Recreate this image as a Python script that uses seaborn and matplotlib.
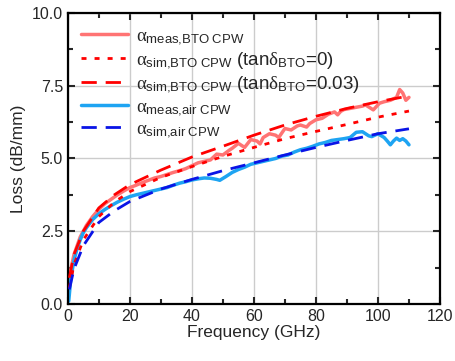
import matplotlib
matplotlib.use("Agg")
import matplotlib.pyplot as plt
import seaborn as sns
from matplotlib.ticker import MultipleLocator

# ---- data ----
f_meas_bto = [0.3, 1, 2, 3, 4, 5, 6, 8, 10, 12, 14, 16, 18, 20, 22, 24, 26, 28, 30, 32, 34, 36, 38, 40,
              42, 44, 46, 48, 50, 52, 53, 55, 57, 59, 61, 62, 63, 65, 67, 68, 70, 72, 74, 75, 77, 78,
              80, 82, 84, 86, 87, 88, 89, 91, 93, 95, 96, 98.5, 100.5, 102, 104, 106, 107, 108, 109, 110]
loss_meas_bto = [0.3, 1.2, 1.7, 2.0, 2.3, 2.5, 2.7, 3.0, 3.25, 3.45, 3.6, 3.75, 3.88, 4.0, 4.08, 4.17, 4.25,
                 4.33, 4.38, 4.45, 4.52, 4.58, 4.65, 4.75, 4.85, 4.9, 4.95, 5.15, 5.12, 5.28, 5.35, 5.52,
                 5.38, 5.65, 5.6, 5.5, 5.72, 5.85, 5.8, 5.72, 6.03, 5.98, 6.12, 6.15, 6.08, 6.2, 6.33,
                 6.38, 6.52, 6.6, 6.5, 6.62, 6.68, 6.72, 6.76, 6.8, 6.84, 6.67, 6.9, 6.95, 7.0, 7.1,
                 7.37, 7.25, 7.0, 7.1]

f_sim = [0.5, 2, 5, 10, 15, 20, 30, 40, 50, 60, 70, 80, 90, 100, 110]
loss_sim_bto_0 = [0.55, 1.35, 2.2, 3.0, 3.5, 3.86, 4.35, 4.72, 5.07, 5.38, 5.68, 5.93, 6.17, 6.42, 6.63]
loss_sim_bto_003 = [0.9, 1.7, 2.5, 3.3, 3.75, 4.1, 4.6, 5.05, 5.42, 5.8, 6.15, 6.45, 6.72, 6.95, 7.15]
loss_sim_air = [0.5, 1.2, 2.0, 2.8, 3.2, 3.52, 3.95, 4.28, 4.58, 4.85, 5.12, 5.38, 5.62, 5.85, 6.02]

f_meas_air = [0.3, 1, 2, 3, 4, 5, 6, 8, 10, 12, 14, 16, 18, 20, 22, 24, 26, 28, 30, 32, 34, 36, 38, 40,
              42, 44, 46, 48, 49, 51, 53, 55, 57, 59, 61, 63, 65, 67, 69, 71, 73, 75, 77, 79, 81, 83, 85,
              87, 89, 91, 93, 95, 97, 98, 100, 102, 103, 104, 105, 106, 107, 108, 109, 110]
loss_meas_air = [0.1, 0.9, 1.5, 1.9, 2.2, 2.45, 2.62, 2.9, 3.1, 3.25, 3.38, 3.5, 3.6, 3.69, 3.75, 3.8, 3.85,
                 3.9, 3.95, 4.0, 4.08, 4.15, 4.2, 4.26, 4.3, 4.33, 4.32, 4.28, 4.25, 4.38, 4.52, 4.62,
                 4.7, 4.8, 4.85, 4.9, 4.95, 5.0, 5.08, 5.12, 5.22, 5.3, 5.35, 5.42, 5.5, 5.55, 5.62,
                 5.65, 5.68, 5.72, 5.9, 5.92, 5.78, 5.75, 5.85, 5.72, 5.6, 5.47, 5.6, 5.7, 5.62, 5.68,
                 5.6, 5.47]

x_ticks = [0, 20, 40, 60, 80, 100, 120]
y_ticks = [0.0, 2.5, 5.0, 7.5, 10.0]

sns.set_style("ticks")
plt.rcParams['font.family'] = ['Liberation Sans', 'DejaVu Sans']
plt.rcParams['mathtext.fontset'] = 'custom'
plt.rcParams['mathtext.rm'] = 'Liberation Sans'
plt.rcParams['mathtext.it'] = 'Liberation Serif'
plt.rcParams['mathtext.bf'] = 'Liberation Sans:bold'

fig = plt.figure(figsize=(4.55, 3.61), dpi=100)
ax = fig.add_axes([0.149, 0.158, 0.818, 0.806])

ax.grid(True, color='#cccccc', linewidth=1.0, zorder=0)

dash_long = (0, (5.5, 3.2))
dash_dot = (0, (1.8, 2.9))

sns.lineplot(x=f_meas_bto, y=loss_meas_bto, ax=ax, color='#ff7474', linewidth=2.5, sort=False,
             label=r'$\alpha_{\mathrm{meas{,}BTO\ CPW}}$', zorder=2)
sns.lineplot(x=f_sim, y=loss_sim_bto_0, ax=ax, color='#ff0000', linewidth=2.0, sort=False,
             linestyle=dash_dot,
             label=r'$\alpha_{\mathrm{sim{,}BTO\ CPW}}$ (tan$\delta_{\mathrm{BTO}}$=0)', zorder=3)
sns.lineplot(x=f_sim, y=loss_sim_bto_003, ax=ax, color='#ff0000', linewidth=2.0, sort=False,
             linestyle=dash_long,
             label=r'$\alpha_{\mathrm{sim{,}BTO\ CPW}}$ (tan$\delta_{\mathrm{BTO}}$=0.03)', zorder=3)
sns.lineplot(x=f_meas_air, y=loss_meas_air, ax=ax, color='#1ea4f2', linewidth=2.5, sort=False,
             label=r'$\alpha_{\mathrm{meas{,}air\ CPW}}$', zorder=2)
sns.lineplot(x=f_sim, y=loss_sim_air, ax=ax, color='#0a14e6', linewidth=2.0, sort=False,
             linestyle=dash_long,
             label=r'$\alpha_{\mathrm{sim{,}air\ CPW}}$', zorder=3)

ax.set_xlim(0, 120)
ax.set_ylim(0, 10)
ax.set_xticks(x_ticks)
ax.set_yticks(y_ticks)
ax.set_xticklabels([str(t) for t in x_ticks])
ax.set_yticklabels([f"{t:.1f}" for t in y_ticks])
ax.xaxis.set_minor_locator(MultipleLocator(10))
ax.yaxis.set_minor_locator(MultipleLocator(1.25))
ax.tick_params(which='both', direction='in', top=True, right=True, width=1.5, labelsize=11.5)
ax.tick_params(which='major', length=5)
ax.tick_params(which='minor', length=3.5)
for s in ax.spines.values():
    s.set_linewidth(1.6)
    s.set_color('black')

ax.set_xlabel('Frequency (GHz)', fontsize=12.5, labelpad=1)
ax.set_ylabel('Loss (dB/mm)', fontsize=12.5, labelpad=4)

leg = ax.legend(loc='upper left', frameon=False, fontsize=13.5, handlelength=2.5,
                borderaxespad=0.3, labelspacing=0.18, handletextpad=0.45,
                bbox_to_anchor=(0.0, 0.995))

fig.savefig('out.png', dpi=100)
